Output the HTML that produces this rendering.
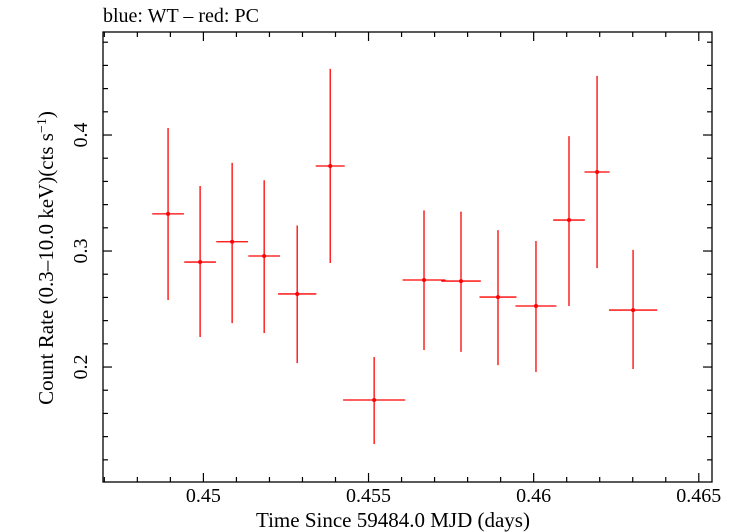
<!DOCTYPE html>
<html><head><meta charset="utf-8"><style>
html,body{margin:0;padding:0;background:#fff;}
svg{display:block;font-family:"Liberation Serif",serif;}
</style></head><body>
<svg id="chart" width="732" height="532" viewBox="0 0 732 532" xmlns="http://www.w3.org/2000/svg">
<text x="103" y="22" font-size="20">blue: WT – red: PC</text>
<rect x="103" y="32" width="609" height="450" fill="none" stroke="#000" stroke-width="1.3"/>
<g id="ticks"></g>
<g id="marks"></g>
<text x="393" y="527" font-size="21" text-anchor="middle">Time Since 59484.0 MJD (days)</text>
<text transform="translate(53,258) rotate(-90)" font-size="21" text-anchor="middle">Count Rate (0.3–10.0 keV)(cts s<tspan dy="-7" font-size="14">−1</tspan><tspan dy="7">)</tspan></text>
</svg>
<script>
const times=[0.44893,0.44990,0.45087,0.45184,0.45284,0.45384,0.45517,0.45668,0.45780,0.45892,0.46007,0.46107,0.46192,0.46301];
const timeErr=[0.00048,0.00048,0.00048,0.00048,0.00058,0.00044,0.00094,0.00065,0.00060,0.00056,0.00062,0.00048,0.00038,0.00073];
const rates=[0.332,0.2905,0.308,0.2957,0.263,0.3733,0.1716,0.275,0.2741,0.2603,0.2526,0.3267,0.3681,0.2491];
const rateHi=[0.406,0.356,0.376,0.361,0.322,0.457,0.2086,0.335,0.334,0.318,0.3086,0.399,0.451,0.301];
const rateLo=[0.2578,0.2259,0.2379,0.2293,0.2034,0.2897,0.1336,0.2147,0.2131,0.2017,0.1957,0.2526,0.2853,0.1983];
const xTicks=[0.45,0.455,0.46,0.465];
const xTickLabels=["0.45","0.455","0.46","0.465"];
const yTicks=[0.2,0.3,0.4];
const yTickLabels=["0.2","0.3","0.4"];

const L=103,R=712,T=32,B=482;
const xMin=0.44696,xMax=0.46540,yMin=0.1009,yMax=0.4888;
const xs=v=>L+(v-xMin)/(xMax-xMin)*(R-L);
const ys=v=>B-(v-yMin)/(yMax-yMin)*(B-T);
const NS="http://www.w3.org/2000/svg";
function mk(tag,attrs,parent){const e=document.createElementNS(NS,tag);for(const k in attrs)e.setAttribute(k,attrs[k]);parent.appendChild(e);return e;}
const tg=document.getElementById('ticks');
function line(x1,y1,x2,y2,p,c,w){return mk('line',{x1,y1,x2,y2,stroke:c||'#000','stroke-width':w||1.2},p);}
for(let i=0;i<=20;i++){const v=0.447+i*0.001;if(v>xMax)break;const x=xs(v);const major=Math.abs(Math.round(v*200)-v*200)<1e-6;const len=major?9:5;
 const a=line(x,B,x,B-len,tg);
 const b=line(x,T,x,T+len,tg);}
for(let i=0;i<=20;i++){const v=0.12+i*0.02;if(v>yMax)break;const y=ys(v);const major=Math.abs(Math.round(v*10)-v*10)<1e-6;const len=major?9:5;
 const a=line(L,y,L+len,y,tg);
 const b=line(R,y,R-len,y,tg);}
xTicks.forEach((v,i)=>{const t=mk('text',{x:xs(v),y:502,'font-size':20,'text-anchor':'middle'},tg);t.textContent=xTickLabels[i];
 });
yTicks.forEach((v,i)=>{const y=ys(v);const t=mk('text',{transform:`translate(87,${y}) rotate(-90)`,'font-size':20,'text-anchor':'middle'},tg);t.textContent=yTickLabels[i];
 });
const mg=document.getElementById('marks');
times.forEach((t,i)=>{const g=mk('g',{},mg);
 
 
 const x=xs(t),y=ys(rates[i]);
 line(x,ys(rateHi[i]),x,ys(rateLo[i]),g,'#f00',1.3);
 line(xs(t-timeErr[i]),y,xs(t+timeErr[i]),y,g,'#f00',1.3);
 mk('circle',{cx:x,cy:y,r:2,fill:'#f00'},g);});
</script>
</body></html>
